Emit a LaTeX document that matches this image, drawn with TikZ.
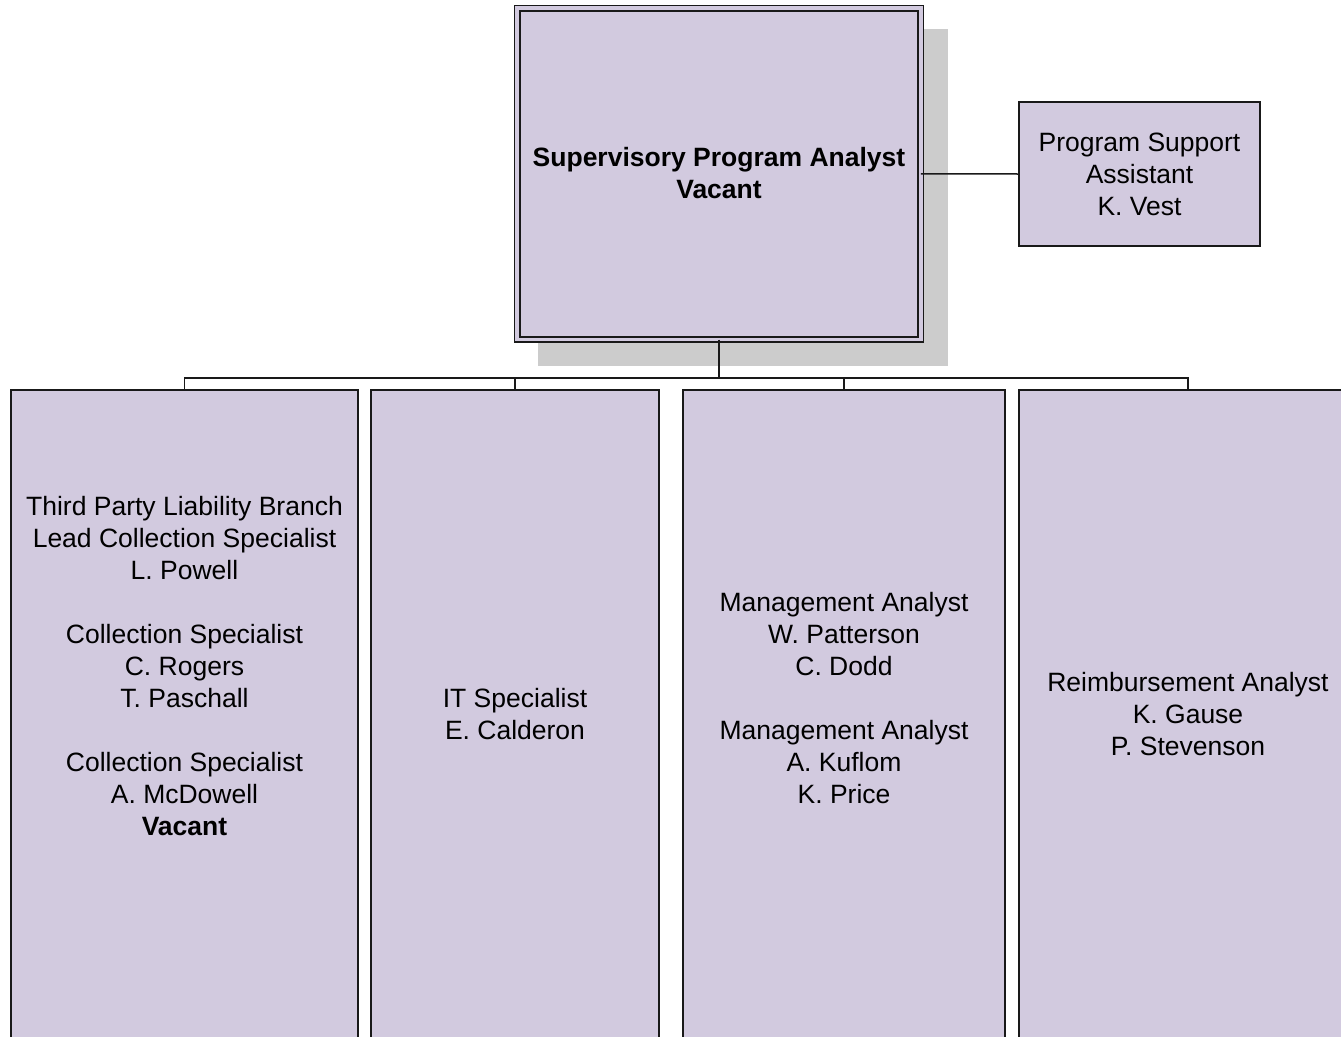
\documentclass[tikz,border=0pt]{standalone}
\usepackage{fontspec}
\setmainfont{Liberation Sans}
\definecolor{boxfill}{RGB}{210,202,223}
\definecolor{shadowgray}{RGB}{204,204,204}
\begin{document}
\begin{tikzpicture}[x=1pt,y=-1pt,
  orgbox/.style={draw=black!90,line width=1.8pt,fill=boxfill,rectangle,inner sep=0pt,outer sep=0pt},
  orgtext/.style={align=center,font=\fontsize{26.5}{32}\selectfont,inner sep=0pt},
  conn/.style={draw=black!90,line width=1.5pt}]
\useasboundingbox (0,0) rectangle (1341,1036);
\clip (0,0) rectangle (1341,1036);
% shadow of top box
\fill[shadowgray] (538,29) rectangle (948,366);
% top box (double border)
\node[orgbox,double=boxfill,double distance=3.6pt,line width=1.7pt,
  minimum width=403.5pt,minimum height=331.25pt] (top) at (719,173.9) {};
\node[orgtext,font=\bfseries\fontsize{26.5}{32}\selectfont] (toptext) at (719,173.5)
  {Supervisory Program Analyst\\Vacant};
% program support assistant
\node[orgbox,minimum width=241pt,minimum height=144pt] (psa) at (1139.5,174) {};
\node[orgtext] (psatext) at (1139.5,174) {Program Support\\Assistant\\K. Vest};
% bottom boxes
\node[orgbox,minimum width=347pt,minimum height=680pt] (b1) at (184.5,730) {};
\node[orgbox,minimum width=288pt,minimum height=680pt] (b2) at (515,730) {};
\node[orgbox,minimum width=322pt,minimum height=680pt] (b3) at (844,730) {};
\node[orgbox,minimum width=338pt,minimum height=680pt] (b4) at (1188,730) {};
\node[orgtext] (t1) at (184.5,666) {Third Party Liability Branch\\Lead Collection Specialist\\L. Powell\\[32pt]Collection Specialist\\C. Rogers\\T. Paschall\\[32pt]Collection Specialist\\A. McDowell\\\textbf{Vacant}};
\node[orgtext] (t2) at (515,714) {IT Specialist\\E. Calderon};
\node[orgtext] (t3) at (844,698) {Management Analyst\\W. Patterson\\C. Dodd\\[32pt]Management Analyst\\A. Kuflom\\K. Price};
\node[orgtext] (t4) at (1188,714) {Reimbursement Analyst\\K. Gause\\P. Stevenson};
% connectors
\coordinate (bus) at (719,378);
\draw[conn] (top.east) -- (psa.west);
\draw[conn] (top.south) -- (bus);
\draw[conn] (b1.north) |- (bus) -| (b4.north);
\draw[conn] (b2.north) -- (b2.north |- bus);
\draw[conn] (b3.north) -- (b3.north |- bus);
\end{tikzpicture}
\end{document}
